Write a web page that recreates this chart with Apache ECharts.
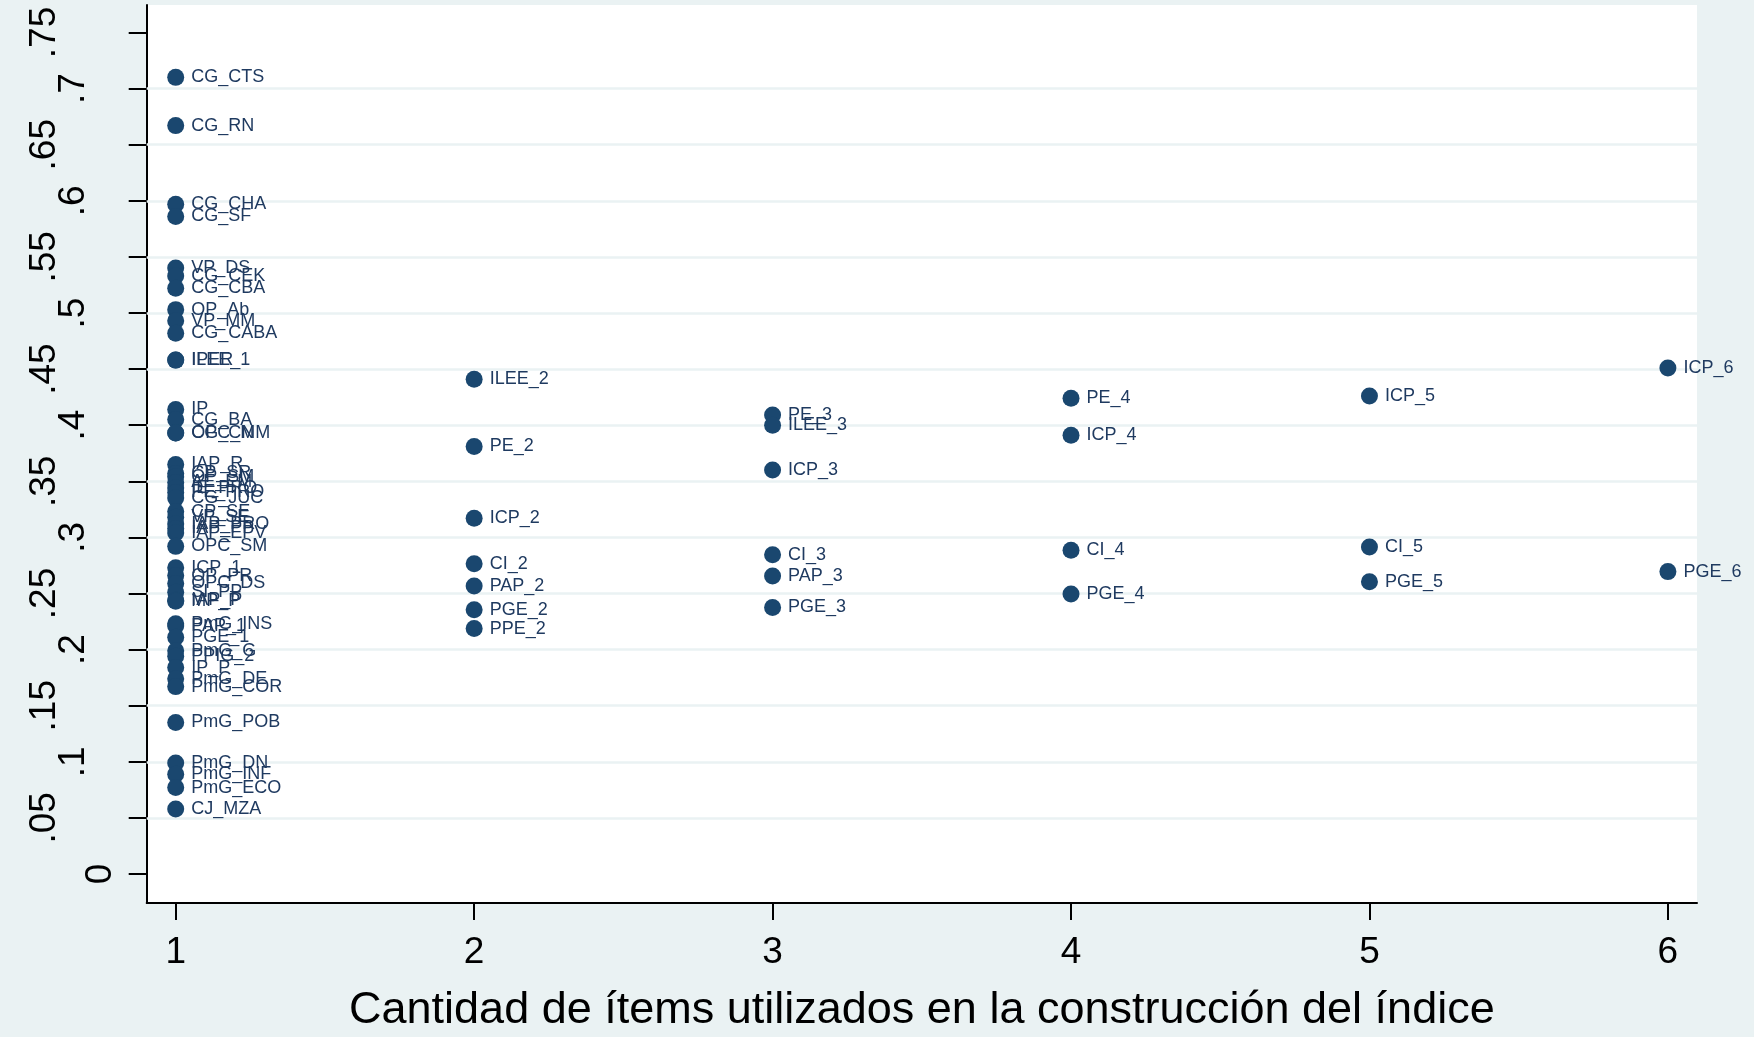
<!DOCTYPE html>
<html>
<head>
<meta charset="utf-8">
<script src="https://cdn.jsdelivr.net/npm/echarts@6/dist/echarts.min.js"></script>
<style>
html,body{margin:0;padding:0;background:#EAF2F3;}
#chart{width:1754px;height:1037px;}
</style>
</head>
<body>
<div id="chart"></div>
<script>
// ---- data ----
const labels1 = ['CG_CTS','CG_RN','CG_CHA','CG_SF','VP_DS','CG_CEK','CG_CBA','OP_Ab','VP_MM','CG_CABA',
  'IPER','ILEE_1','IP','CG_BA','OPC_MM','CG_CN',
  'IAP_R','CP_SR','OP_SM','AE_EM','IE_PRO','PE_PRO','CG_JUC','CP_SE','VP_SE','IAP_PRO','IAP_PP','IAP_EPV','OPC_SM',
  'ICP_1','OP_PR','OPC_DS','SI_PP','IAP_P','MP_P',
  'PmG_INS','PAP_1','PGE_1','PmG_G','PPIG_2','IP_P','PmG_DE','PmG_COR',
  'PmG_POB','PmG_DN','PmG_INF','PmG_ECO','CJ_MZA'];
const values1 = [0.710,0.667,0.597,0.586,0.540,0.533,0.522,0.503,0.493,0.482,
  0.458,0.458,0.414,0.405,0.393,0.393,
  0.365,0.357,0.354,0.349,0.344,0.340,0.335,0.323,0.318,0.312,0.308,0.304,0.292,
  0.273,0.266,0.259,0.251,0.244,0.243,
  0.223,0.221,0.211,0.199,0.194,0.184,0.174,0.167,
  0.135,0.099,0.089,0.077,0.058];
const labels2 = ['ILEE_2','PE_2','ICP_2','CI_2','PAP_2','PGE_2','PPE_2'];
const values2 = [0.441,0.381,0.317,0.2765,0.2566,0.2356,0.2187];
const labels3 = ['PE_3','ILEE_3','ICP_3','CI_3','PAP_3','PGE_3'];
const values3 = [0.409,0.400,0.360,0.2845,0.2655,0.2376];
const labels4 = ['PE_4','ICP_4','CI_4','PGE_4'];
const values4 = [0.424,0.391,0.2885,0.2495];
const labels5 = ['ICP_5','CI_5','PGE_5'];
const values5 = [0.426,0.2915,0.2605];
const labels6 = ['ICP_6','PGE_6'];
const values6 = [0.451,0.2695];

const xTicks = [1,2,3,4,5,6];
const yTicks = [0,0.05,0.1,0.15,0.2,0.25,0.3,0.35,0.4,0.45,0.5,0.55,0.6,0.65,0.7,0.75];
const yTickLabels = ['0','.05','.1','.15','.2','.25','.3','.35','.4','.45','.5','.55','.6','.65','.7','.75'];
const gridLines = [0.05,0.1,0.15,0.2,0.25,0.3,0.35,0.4,0.45,0.5,0.55,0.6,0.65,0.7];
const xTitle = 'Cantidad de ítems utilizados en la construcción del índice';

// ---- build ----
const groups = [[1,labels1,values1],[2,labels2,values2],[3,labels3,values3],[4,labels4,values4],[5,labels5,values5],[6,labels6,values6]];
const points = [];
groups.forEach(([x, ls, vs]) => ls.forEach((l, i) => points.push({value:[x, vs[i]], name:l})));

const FONT = '"Liberation Sans", Arial, sans-serif';
const chart = echarts.init(document.getElementById('chart'));
chart.setOption({
  animation: false,
  backgroundColor: '#EAF2F3',
  grid: {left:146.7, right:57, top:5, bottom:134, show:true, backgroundColor:'#ffffff', borderWidth:0,
    containLabel:false, outerBoundsMode:'none'},
  xAxis: {
    type:'value', min:0.9028, max:6.0975,
    axisLine:{show:true, onZero:false, lineStyle:{color:'#000', width:2}},
    axisTick:{show:true, length:17, lineStyle:{color:'#000', width:2}, customValues:xTicks},
    axisLabel:{show:true, customValues:xTicks, fontSize:37, color:'#000', fontFamily:FONT, margin:31},
    splitLine:{show:false},
    name:xTitle, nameLocation:'middle', nameGap:85,
    nameTextStyle:{fontSize:45, color:'#000', fontFamily:FONT}
  },
  yAxis: {
    type:'value', min:-0.02585, max:0.7745,
    axisLine:{show:true, onZero:false, lineStyle:{color:'#000', width:2}},
    axisTick:{show:true, length:18, lineStyle:{color:'#000', width:2}, customValues:yTicks},
    axisLabel:{show:true, customValues:yTicks, rotate:90, fontSize:37, color:'#000', fontFamily:FONT, margin:27,
      formatter: function(v){
        let idx = -1;
        yTicks.forEach((t,i)=>{ if (Math.abs(t-v)<1e-6) idx=i; });
        const s = idx>=0 ? yTickLabels[idx] : '';
        return '{p' + s.length + '|' + s + '}';
      },
      rich:{
        p1:{fontSize:37, color:'#000', fontFamily:FONT, padding:[0,0,0,0]},
        p2:{fontSize:37, color:'#000', fontFamily:FONT, padding:[0,0,27,0]},
        p3:{fontSize:37, color:'#000', fontFamily:FONT, padding:[0,0,56,0]}
      }
    },
    splitLine:{show:false}
  },
  series: [
    {
      type:'scatter', data:[], z:1, silent:true,
      markLine:{silent:true, z:1, symbol:['none','none'], label:{show:false},
        lineStyle:{color:'#EAF2F3', width:2.5, type:'solid'},
        data: gridLines.map(v=>({yAxis:v}))}
    },
    {
      type:'scatter', z:3, data:points, symbol:'circle', symbolSize:17,
      itemStyle:{color:'#1a476f', opacity:1},
      label:{show:true, position:'right', distance:7, offset:[0,2], formatter:'{b}', fontSize:18, color:'#1f3a60', fontFamily:FONT},
      labelLayout:{hideOverlap:false}
    }
  ]
});
</script>
</body>
</html>
